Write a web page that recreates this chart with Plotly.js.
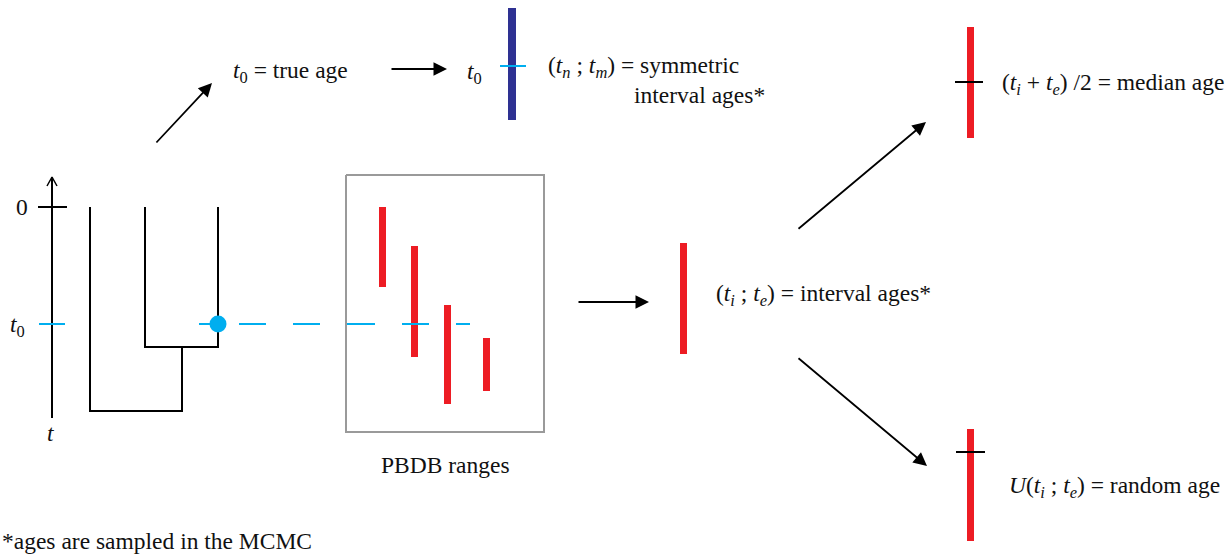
<!DOCTYPE html>
<html>
<head>
<meta charset="utf-8">
<script src="https://cdn.plot.ly/plotly-3.0.1.min.js"></script>
<style>html,body{margin:0;padding:0;background:#fff;}#chart{width:1231px;height:555px;}</style>
</head>
<body>
<div id="chart"></div>
<script>
// ---- data (diagram coordinates: x to the right, y downward) ----
// time axis
const axisX = [52, 52];
const axisY = [418, 177];
const axisHeadX = [47, 52, 57];
const axisHeadY = [186, 177, 186];
const zeroTickX = [38, 67];
const zeroTickY = [207, 207];
const t0TickX = [39, 65];
const t0TickY = [324, 324];
// phylogeny branches
const treeX = [90, 90, 182, 182, null, 145, 145, 218, 218];
const treeY = [207, 411, 411, 347, null, 207, 347, 347, 207];
// sampled lineage at t0
const dotX = [218];
const dotY = [324];
const dashStart = [199, 239, 293, 347, 402, 456];
const dashEnd = [213, 266, 320, 375, 429, 470];
const dashLevel = 324;
// true-age symmetric interval (navy bar)
const symX = [512];
const symTop = [8];
const symBottom = [120];
const symTickX = [500, 526];
const symTickY = [66, 66];
// PBDB ranges box
const boxX = [346, 544, 544, 346, 346];
const boxY = [175, 175, 432, 432, 175];
// PBDB ranges (red bars)
const pbdbX = [382, 414, 447, 486];
const pbdbTop = [207, 246, 305, 338];
const pbdbBottom = [287, 357, 404, 391];
// interval / median / random bars
const ageBarX = [683, 970, 970];
const ageBarTop = [243, 27, 429];
const ageBarBottom = [354, 138, 541];
const medianTickX = [955, 983];
const medianTickY = [82, 82];
const randomTickX = [956, 985];
const randomTickY = [452, 452];
// arrows: tail -> tip
const arrowTailX = [155, 390, 577, 797, 797];
const arrowTailY = [144, 69, 302, 230, 357];
const arrowTipX = [212, 447, 649, 926, 927];
const arrowTipY = [83, 69, 302, 122, 466];
// labels
const labelText = [
  '0',
  '<i>t</i><sub>0</sub>',
  '<i>t</i>',
  '<i>t</i><sub>0</sub> = true age',
  '<i>t</i><sub>0</sub>',
  '(<i>t</i><sub><i>n</i></sub> ; <i>t</i><sub><i>m</i></sub>) = symmetric',
  'interval ages*',
  '(<i>t</i><sub><i>i</i></sub> ; <i>t</i><sub><i>e</i></sub>) = interval ages*',
  '(<i>t</i><sub><i>i</i></sub> + <i>t</i><sub><i>e</i></sub>) /2 = median age',
  '<i>U</i>(<i>t</i><sub><i>i</i></sub> ; <i>t</i><sub><i>e</i></sub>) = random age',
  'PBDB ranges',
  '*ages are sampled in the MCMC'
];
const labelX = [14, 8, 50, 231, 465, 546, 632, 714, 1000, 1007, 445, 0];
const labelY = [207, 326, 433, 72, 73, 67, 95, 295, 84, 487, 465, 541];
const labelAnchor = ['left','left','center','left','left','left','left','left','left','left','center','left'];

const RED = '#ed1c24';
const NAVY = '#2e3192';
const CYAN = '#00aeef';

function segs(xs0, xs1, y) {
  const xs = [], ys = [];
  for (let i = 0; i < xs0.length; i++) {
    xs.push(xs0[i], xs1[i], null);
    ys.push(y, y, null);
  }
  return {xs, ys};
}
const dashes = segs(dashStart, dashEnd, dashLevel);

const traces = [
  {type: 'bar', x: pbdbX.concat(ageBarX), base: pbdbTop.concat(ageBarTop),
   y: pbdbX.map((_, i) => pbdbBottom[i] - pbdbTop[i]).concat(ageBarX.map((_, i) => ageBarBottom[i] - ageBarTop[i])),
   width: 7, marker: {color: RED, line: {width: 0}}, hoverinfo: 'skip'},
  {type: 'bar', x: symX, base: symTop, y: symX.map((_, i) => symBottom[i] - symTop[i]),
   width: 8, marker: {color: NAVY, line: {width: 0}}, hoverinfo: 'skip'},
  {type: 'scatter', mode: 'lines', x: boxX, y: boxY, line: {color: '#9a9a9a', width: 2}, hoverinfo: 'skip'},
  {type: 'scatter', mode: 'lines', x: treeX, y: treeY, line: {color: 'black', width: 2}, hoverinfo: 'skip'},
  {type: 'scatter', mode: 'lines', x: axisX, y: axisY, line: {color: 'black', width: 2}, hoverinfo: 'skip'},
  {type: 'scatter', mode: 'lines', x: axisHeadX, y: axisHeadY, line: {color: 'black', width: 1.5}, hoverinfo: 'skip'},
  {type: 'scatter', mode: 'lines', x: zeroTickX, y: zeroTickY, line: {color: 'black', width: 2}, hoverinfo: 'skip'},
  {type: 'scatter', mode: 'lines', x: medianTickX, y: medianTickY, line: {color: 'black', width: 2}, hoverinfo: 'skip'},
  {type: 'scatter', mode: 'lines', x: randomTickX, y: randomTickY, line: {color: 'black', width: 2}, hoverinfo: 'skip'},
  {type: 'scatter', mode: 'lines', x: t0TickX, y: t0TickY, line: {color: CYAN, width: 2}, hoverinfo: 'skip'},
  {type: 'scatter', mode: 'lines', x: symTickX, y: symTickY, line: {color: CYAN, width: 2}, hoverinfo: 'skip'},
  {type: 'scatter', mode: 'lines', x: dashes.xs, y: dashes.ys, line: {color: CYAN, width: 2}, hoverinfo: 'skip', connectgaps: false},
  {type: 'scatter', mode: 'markers', x: dotX, y: dotY, marker: {color: CYAN, size: 17, line: {width: 0}}, hoverinfo: 'skip'}
];

const annotations = [];
for (let i = 0; i < arrowTipX.length; i++) {
  annotations.push({
    x: arrowTipX[i], y: arrowTipY[i], ax: arrowTailX[i], ay: arrowTailY[i],
    xref: 'x', yref: 'y', axref: 'x', ayref: 'y', text: '',
    showarrow: true, arrowhead: 2, arrowsize: 1.5, arrowwidth: 1.8, arrowcolor: 'black',
    standoff: 0, startstandoff: 0
  });
}
for (let i = 0; i < labelText.length; i++) {
  annotations.push({
    x: labelX[i], y: labelY[i], xref: 'x', yref: 'y', text: labelText[i],
    showarrow: false, xanchor: labelAnchor[i], yanchor: 'middle',
    font: {family: 'Liberation Serif', size: 23.5, color: '#111111'}
  });
}

const layout = {
  width: 1231, height: 555,
  margin: {l: 0, r: 0, t: 0, b: 0, pad: 0},
  paper_bgcolor: '#ffffff', plot_bgcolor: '#ffffff',
  font: {family: 'Liberation Serif'},
  showlegend: false, barmode: 'overlay', bargap: 0,
  xaxis: {range: [0, 1231], visible: false, fixedrange: true},
  yaxis: {range: [555, 0], visible: false, fixedrange: true},
  annotations: annotations
};

Plotly.newPlot('chart', traces, layout, {staticPlot: true, displayModeBar: false});
</script>
</body>
</html>
